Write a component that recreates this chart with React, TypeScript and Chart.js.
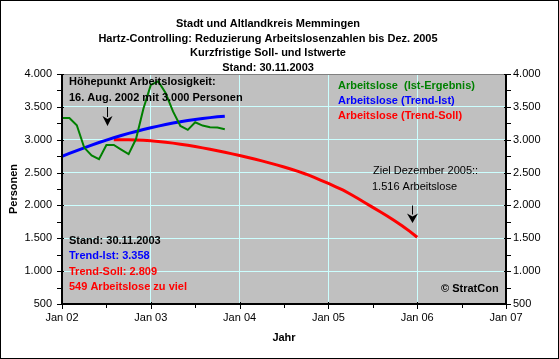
import React, { useEffect, useRef } from "react";
import { Chart, registerables } from "chart.js";

Chart.register(...registerables);

// ---- Data ----
const yearLabels = ["Jan 02", "Jan 03", "Jan 04", "Jan 05", "Jan 06", "Jan 07"];

// Monthly values; month index 0 = Jan 2002
const istStartMonth = 0;
const istValues = [
  3330, 3330, 3220, 2880, 2760, 2705, 2920, 2920, 2850, 2780, 3010, 3470,
  3835, 3890, 3710, 3430, 3210, 3150, 3265, 3215, 3190, 3185, 3160,
];

const trendIstStartMonth = 0;
const trendIstValues = [
  2745, 2791, 2835, 2877, 2918, 2957, 2994, 3030, 3064, 3096, 3126, 3155,
  3182, 3207, 3231, 3253, 3273, 3291, 3308, 3323, 3336, 3348, 3358,
];

const trendSollStartMonth = 7;
const trendSollValues = [
  3000, 3000, 2999, 2996, 2991, 2984, 2974, 2962, 2948, 2932,
  2915, 2896, 2876, 2855, 2833, 2809, 2784, 2759, 2733, 2706,
  2678, 2648, 2617, 2585, 2551, 2515, 2475, 2430, 2383, 2334,
  2284, 2232, 2170, 2105, 2038, 1970, 1903, 1835, 1762, 1687,
  1605, 1516,
];

const seriesNames = [
  "Arbeitslose  (Ist-Ergebnis)",
  "Arbeitslose (Trend-Ist)",
  "Arbeitslose (Trend-Soll)",
];
const seriesColors = ["#008000", "#0000ff", "#ff0000"];

const titleLines = [
  "Stadt und Altlandkreis Memmingen",
  "Hartz-Controlling: Reduzierung Arbeitslosenzahlen bis Dez. 2005",
  "Kurzfristige Soll- und Istwerte",
  "Stand: 30.11.2003",
];

const peakNote = ["Höhepunkt Arbeitslosigkeit:", "16. Aug. 2002 mit 3.000 Personen"];
const statusNote = [
  { text: "Stand: 30.11.2003", color: "#000000" },
  { text: "Trend-Ist: 3.358", color: "#0000ff" },
  { text: "Trend-Soll: 2.809", color: "#ff0000" },
  { text: "549 Arbeitslose zu viel", color: "#ff0000" },
];
const goalNote = ["Ziel Dezember 2005::", "1.516 Arbeitslose"];
const copyright = "© StratCon";

const FONT = '"Liberation Sans", Arial, Helvetica, sans-serif';

const toPoints = (start: number, vals: number[]) =>
  vals.map((v, i) => ({ x: start + i, y: v }));

const fmt = (v: number) =>
  String(Math.round(v)).replace(/\B(?=(\d{3})+(?!\d))/g, ".");

const decorPlugin = {
  id: "decor",
  beforeDraw(chart: any) {
    const { ctx, chartArea: a, width, height } = chart;
    ctx.save();
    ctx.fillStyle = "#ffffff";
    ctx.fillRect(0, 0, width, height);
    ctx.fillStyle = "#c0c0c0";
    ctx.fillRect(a.left, a.top, a.right - a.left, a.bottom - a.top);
    ctx.restore();
  },
  afterDraw(chart: any) {
    const { ctx, chartArea: a, width, height } = chart;
    const xs = chart.scales.x;
    const ys = chart.scales.y;
    ctx.save();

    // plot border: top grey
    ctx.strokeStyle = "#808080";
    ctx.lineWidth = 1;
    ctx.beginPath();
    ctx.moveTo(a.left, a.top + 0.5);
    ctx.lineTo(a.right, a.top + 0.5);
    ctx.stroke();

    // axes lines
    ctx.strokeStyle = "#000000";
    ctx.lineWidth = 2;
    ctx.beginPath();
    ctx.moveTo(a.left, a.top);
    ctx.lineTo(a.left, a.bottom);
    ctx.moveTo(a.right, a.top);
    ctx.lineTo(a.right, a.bottom);
    ctx.moveTo(a.left - 1, a.bottom);
    ctx.lineTo(a.right + 1, a.bottom);
    ctx.stroke();

    // y tick marks
    ctx.lineWidth = 1;
    ctx.beginPath();
    for (let v = ys.min; v <= ys.max; v += 250) {
      const py = Math.round(ys.getPixelForValue(v)) + 0.5;
      const major = v % 500 === 0;
      ctx.moveTo(a.left - 5, py);
      ctx.lineTo(a.left + (major ? 2 : 0), py);
      ctx.moveTo(a.right - (major ? 2 : 0), py);
      ctx.lineTo(a.right + 5, py);
    }
    // x tick marks
    for (let m = xs.min; m <= xs.max; m += 6) {
      const px = Math.round(xs.getPixelForValue(m)) + 0.5;
      const major = m % 12 === 0;
      ctx.moveTo(px, a.bottom - (major ? 2 : 0));
      ctx.lineTo(px, a.bottom + (major ? 5 : 4));
    }
    ctx.stroke();

    // Title
    ctx.fillStyle = "#000000";
    ctx.font = `bold 11px ${FONT}`;
    ctx.textAlign = "center";
    ctx.textBaseline = "alphabetic";
    const tb = [27, 41.7, 56.4, 71];
    titleLines.forEach((t, i) => ctx.fillText(t, 268, tb[i]));

    ctx.textAlign = "left";
    // peak note
    ctx.fillText(peakNote[0], 69, 85);
    ctx.fillText(peakNote[1], 69, 100.5);

    // legend
    const lb = [89, 104, 119];
    seriesNames.forEach((t, i) => {
      ctx.fillStyle = seriesColors[i];
      ctx.fillText(t, 338, lb[i]);
    });

    // status note
    const sb = [244, 259, 274.7, 290];
    statusNote.forEach((n, i) => {
      ctx.fillStyle = n.color;
      ctx.fillText(n.text, 69, sb[i]);
    });

    // copyright
    ctx.fillStyle = "#000000";
    ctx.fillText(copyright, 441, 292);

    // goal note
    ctx.font = `11px ${FONT}`;
    ctx.fillText(goalNote[0], 373, 174);
    ctx.fillText(goalNote[1], 372, 189.5);

    // arrows
    const arrow = (x: number, y0: number, yHead: number, yTip: number, hw: number) => {
      ctx.strokeStyle = "#000000";
      ctx.lineWidth = 1;
      ctx.beginPath();
      ctx.moveTo(x, y0);
      ctx.lineTo(x, yHead + 1);
      ctx.stroke();
      ctx.fillStyle = "#000000";
      ctx.beginPath();
      ctx.moveTo(x - hw, yHead);
      ctx.lineTo(x, yHead + 3);
      ctx.lineTo(x + hw, yHead);
      ctx.lineTo(x, yTip);
      ctx.closePath();
      ctx.fill();
    };
    arrow(107.5, 107, 116, 126, 5);
    arrow(412.5, 205.5, 213.5, 223, 5.5);

    // outer border
    ctx.strokeStyle = "#000000";
    ctx.lineWidth = 1;
    ctx.strokeRect(0.5, 0.5, width - 1, height - 1);
    ctx.restore();
  },
};

export default function App() {
  const canvasRef = useRef<HTMLCanvasElement | null>(null);

  useEffect(() => {
    document.body.style.margin = "0";
    const canvas = canvasRef.current;
    if (!canvas) return;

    const tickFont = { family: FONT, size: 11, weight: "normal" as const };
    const titleFont = { family: FONT, size: 11, weight: "bold" as const };

    const chart = new Chart(canvas, {
      type: "line",
      data: {
        datasets: [
          {
            label: seriesNames[0],
            data: toPoints(istStartMonth, istValues),
            borderColor: seriesColors[0],
            borderWidth: 2,
            pointRadius: 0,
            tension: 0,
            yAxisID: "y",
          },
          {
            label: seriesNames[1],
            data: toPoints(trendIstStartMonth, trendIstValues),
            borderColor: seriesColors[1],
            borderWidth: 3,
            pointRadius: 0,
            tension: 0,
            yAxisID: "y",
          },
          {
            label: seriesNames[2],
            data: toPoints(trendSollStartMonth, trendSollValues),
            borderColor: seriesColors[2],
            borderWidth: 3,
            pointRadius: 0,
            tension: 0,
            yAxisID: "y",
          },
        ],
      },
      options: {
        animation: false,
        responsive: false,
        devicePixelRatio: 1,
        layout: { padding: { top: 74, left: 0, right: 0, bottom: 0 } },
        plugins: {
          legend: { display: false },
          title: { display: false },
          tooltip: { enabled: false },
        },
        scales: {
          x: {
            type: "linear",
            position: "bottom",
            min: 0,
            max: 60,
            afterBuildTicks: (s: any) => {
              s.ticks = yearLabels.map((_, i) => ({ value: i * 12 }));
            },
            afterFit: (s: any) => {
              s.height = 55;
            },
            ticks: {
              color: "#000000",
              font: tickFont,
              padding: 7,
              maxRotation: 0,
              autoSkip: false,
              callback: (v: any) => yearLabels[Math.round(Number(v) / 12)] ?? "",
            },
            grid: { color: "#ccffff", lineWidth: 1, drawTicks: false },
            border: { display: false },
            title: {
              display: true,
              text: "Jahr",
              color: "#000000",
              font: titleFont,
              padding: { top: 0, bottom: 14 },
            },
          },
          y: {
            type: "linear",
            position: "left",
            min: 500,
            max: 4000,
            afterFit: (s: any) => {
              s.width = 62;
            },
            ticks: {
              stepSize: 500,
              color: "#000000",
              font: tickFont,
              padding: 10,
              callback: (v: any) => fmt(Number(v)),
            },
            grid: { color: "#ccffff", lineWidth: 1, drawTicks: false },
            border: { display: false },
            title: {
              display: true,
              text: "Personen",
              color: "#000000",
              font: titleFont,
              padding: { top: 7, bottom: 0 },
            },
          },
          y2: {
            type: "linear",
            position: "right",
            min: 500,
            max: 4000,
            afterFit: (s: any) => {
              s.width = 53;
            },
            ticks: {
              stepSize: 500,
              color: "#000000",
              font: tickFont,
              padding: 7,
              callback: (v: any) => fmt(Number(v)),
            },
            grid: { display: false, drawTicks: false },
            border: { display: false },
          },
        },
      },
      plugins: [decorPlugin],
    });

    return () => chart.destroy();
  }, []);

  return (
    <div style={{ width: 559, height: 359 }}>
      <canvas ref={canvasRef} width={559} height={359} style={{ display: "block", width: 559, height: 359 }} />
    </div>
  );
}
